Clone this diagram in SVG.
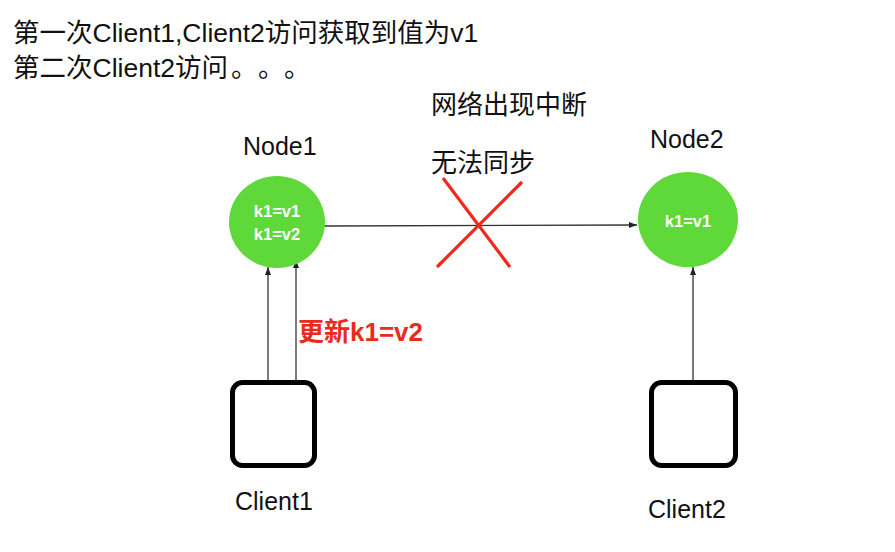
<svg xmlns="http://www.w3.org/2000/svg" width="895" height="552" viewBox="0 0 895 552">
<style>
.t{font-family:"Liberation Sans","Noto Sans CJK SC",sans-serif;fill:#111}
.big{font-size:26.5px}
.lab{font-size:25px}
.cjk{font-size:26px}
.kv{font-family:"Liberation Sans",sans-serif;font-size:16.5px;font-weight:bold;fill:#fff}
.node{fill:#5fd83a}
.client{fill:#fff;stroke:#000;stroke-width:5}
.conn{stroke:#333;stroke-width:1.3;fill:none;marker-end:url(#ah)}
.x{stroke:#f3281c;stroke-width:3.2}
</style>
<defs>
<marker id="ah" markerWidth="8" markerHeight="6" refX="8" refY="3" orient="auto" markerUnits="userSpaceOnUse">
<path d="M0,0 L8,3 L0,6 Z" fill="#222"/>
</marker>
</defs>
<rect width="895" height="552" fill="#fff"/>
<text class="t big" x="13" y="42">第一次Client1,Client2访问获取到值为v1</text>
<text class="t big" x="13" y="77">第二次Client2访问<tspan x="231">。</tspan><tspan x="258">。</tspan><tspan x="284">。</tspan></text>
<text class="t cjk" x="431" y="114">网络出现中断</text>
<text class="t cjk" x="431" y="172">无法同步</text>
<g id="connectors">
<line class="conn" x1="324" y1="226" x2="637" y2="225"/>
<line class="conn" x1="268" y1="380" x2="268" y2="267"/>
<line class="conn" x1="296" y1="380" x2="296" y2="260"/>
<line class="conn" x1="693" y1="380" x2="693" y2="267"/>
</g>
<g id="cross">
<line class="x" x1="443" y1="178" x2="510" y2="267"/>
<line class="x" x1="522" y1="182" x2="437" y2="267"/>
</g>
<text class="t" x="298" y="341" style="font-size:26px;font-weight:bold;fill:#ea2a1c">更新k1=v2</text>
<g id="node1">
<text class="t lab" x="243" y="155">Node1</text>
<ellipse class="node" cx="277" cy="222" rx="48" ry="46"/>
<text class="kv" x="277" y="217" text-anchor="middle">k1=v1</text>
<text class="kv" x="277" y="240" text-anchor="middle">k1=v2</text>
</g>
<g id="node2">
<text class="t lab" x="650" y="148">Node2</text>
<ellipse class="node" cx="688" cy="219.5" rx="50" ry="47.5"/>
<text class="kv" x="688" y="227" text-anchor="middle">k1=v1</text>
</g>
<g id="client1">
<rect class="client" x="232.5" y="382.5" width="82" height="83" rx="10"/>
<text class="t lab" x="235" y="510">Client1</text>
</g>
<g id="client2">
<rect class="client" x="651.5" y="382.5" width="84" height="83" rx="10"/>
<text class="t lab" x="648" y="518">Client2</text>
</g>
</svg>
